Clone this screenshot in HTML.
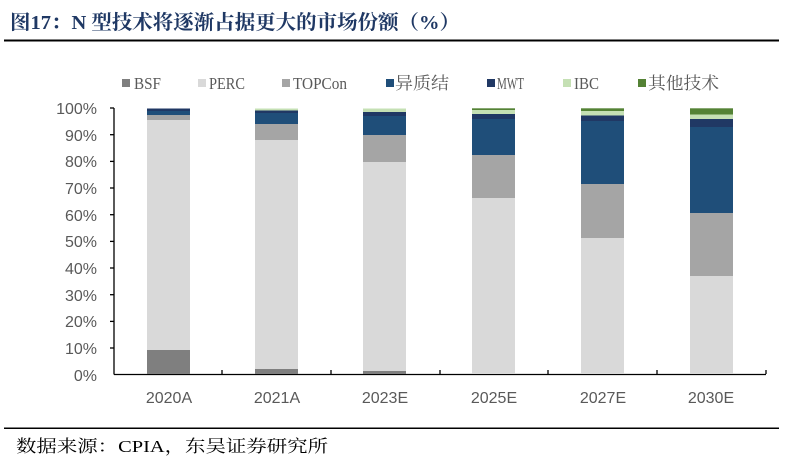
<!DOCTYPE html>
<html><head><meta charset="utf-8"><style>
body{margin:0;background:#fff;width:800px;height:465px;overflow:hidden}
svg{display:block}
.t{font-family:"Liberation Serif","Noto Serif CJK SC",serif}
.a{font-family:"Liberation Sans",sans-serif;fill:#595959}
</style></head><body>
<svg width="800" height="465" viewBox="0 0 800 465">
<text x="10" y="29" class="t" font-size="20" font-weight="bold" fill="#1f3864" textLength="450" lengthAdjust="spacingAndGlyphs">图17：N 型技术将逐渐占据更大的市场份额（%）</text>
<rect x="4" y="39.5" width="775" height="2" fill="#000"/>
<g class="t" font-size="17" fill="#595959">
<rect x="122" y="79" width="8" height="8" fill="#7f7f7f"/><text x="134" y="89" textLength="27" lengthAdjust="spacingAndGlyphs">BSF</text>
<rect x="198" y="79" width="8" height="8" fill="#d9d9d9"/><text x="209" y="89" textLength="36" lengthAdjust="spacingAndGlyphs">PERC</text>
<rect x="282" y="79" width="8" height="8" fill="#a5a5a5"/><text x="293" y="89" textLength="54" lengthAdjust="spacingAndGlyphs">TOPCon</text>
<rect x="386" y="79" width="8" height="8" fill="#1f4e79"/><text x="395" y="89" textLength="54" lengthAdjust="spacingAndGlyphs">异质结</text>
<rect x="487" y="79" width="8" height="8" fill="#203864"/><text x="497" y="89" textLength="27" lengthAdjust="spacingAndGlyphs">MWT</text>
<rect x="563" y="79" width="8" height="8" fill="#c5e0b4"/><text x="574" y="89" textLength="25" lengthAdjust="spacingAndGlyphs">IBC</text>
<rect x="638" y="79" width="8" height="8" fill="#548235"/><text x="648" y="89" textLength="71" lengthAdjust="spacingAndGlyphs">其他技术</text>
</g>
<g class="a" font-size="16" text-anchor="end">
<text x="97" y="114">100%</text><text x="97" y="141">90%</text><text x="97" y="167">80%</text><text x="97" y="194">70%</text><text x="97" y="221">60%</text><text x="97" y="247">50%</text><text x="97" y="274">40%</text><text x="97" y="301">30%</text><text x="97" y="327">20%</text><text x="97" y="354">10%</text><text x="97" y="381">0%</text>
</g>
<g stroke="#000" stroke-width="1.3">
<line x1="114" y1="108" x2="114" y2="374.5"/>
<line x1="114" y1="374.5" x2="766" y2="374.5"/>
<line x1="110" y1="108" x2="114" y2="108"/><line x1="110" y1="134.7" x2="114" y2="134.7"/><line x1="110" y1="161.4" x2="114" y2="161.4"/><line x1="110" y1="188" x2="114" y2="188"/><line x1="110" y1="214.7" x2="114" y2="214.7"/><line x1="110" y1="241.4" x2="114" y2="241.4"/><line x1="110" y1="268" x2="114" y2="268"/><line x1="110" y1="294.7" x2="114" y2="294.7"/><line x1="110" y1="321.4" x2="114" y2="321.4"/><line x1="110" y1="348" x2="114" y2="348"/>
<line x1="222" y1="370" x2="222" y2="374"/><line x1="331" y1="370" x2="331" y2="374"/><line x1="440" y1="370" x2="440" y2="374"/><line x1="548" y1="370" x2="548" y2="374"/><line x1="657" y1="370" x2="657" y2="374"/><line x1="766" y1="370" x2="766" y2="374"/>
</g>
<g transform="translate(147,0)">
<rect y="350" width="43" height="24" fill="#7f7f7f"/><rect y="120" width="43" height="230" fill="#d9d9d9"/><rect y="115" width="43" height="5" fill="#a5a5a5"/><rect y="111" width="43" height="4" fill="#1f4e79"/><rect y="108.5" width="43" height="2.5" fill="#203864"/>
</g>
<g transform="translate(255,0)">
<rect y="369" width="43" height="5" fill="#7f7f7f"/><rect y="140" width="43" height="229" fill="#d9d9d9"/><rect y="124" width="43" height="16" fill="#a5a5a5"/><rect y="113" width="43" height="11" fill="#1f4e79"/><rect y="110.5" width="43" height="2.5" fill="#203864"/><rect y="108.5" width="43" height="2" fill="#c5e0b4"/>
</g>
<g transform="translate(363,0)">
<rect y="371" width="43" height="3" fill="#7f7f7f"/><rect y="162" width="43" height="209" fill="#d9d9d9"/><rect y="135" width="43" height="27" fill="#a5a5a5"/><rect y="116" width="43" height="19" fill="#1f4e79"/><rect y="112" width="43" height="4" fill="#203864"/><rect y="108.5" width="43" height="3.5" fill="#c5e0b4"/>
</g>
<g transform="translate(472,0)">
<rect y="198" width="43" height="176" fill="#d9d9d9"/><rect y="155" width="43" height="43" fill="#a5a5a5"/><rect y="119" width="43" height="36" fill="#1f4e79"/><rect y="114" width="43" height="5" fill="#203864"/><rect y="110" width="43" height="4" fill="#c5e0b4"/><rect y="108.3" width="43" height="1.7" fill="#548235"/>
</g>
<g transform="translate(581,0)">
<rect y="238" width="43" height="136" fill="#d9d9d9"/><rect y="184" width="43" height="54" fill="#a5a5a5"/><rect y="121" width="43" height="63" fill="#1f4e79"/><rect y="115.5" width="43" height="5.5" fill="#203864"/><rect y="111" width="43" height="4.5" fill="#c5e0b4"/><rect y="108.3" width="43" height="2.7" fill="#548235"/>
</g>
<g transform="translate(690,0)">
<rect y="276" width="43" height="98" fill="#d9d9d9"/><rect y="213" width="43" height="63" fill="#a5a5a5"/><rect y="127" width="43" height="86" fill="#1f4e79"/><rect y="119" width="43" height="8" fill="#203864"/><rect y="114.5" width="43" height="4.5" fill="#c5e0b4"/><rect y="108.3" width="43" height="6.2" fill="#548235"/>
</g>
<g class="a" font-size="16" text-anchor="middle">
<text x="169" y="403">2020A</text><text x="277" y="403">2021A</text><text x="385" y="403">2023E</text><text x="494" y="403">2025E</text><text x="603" y="403">2027E</text><text x="711" y="403">2030E</text>
</g>
<rect x="4" y="427.5" width="775" height="1.5" fill="#000"/>
<text x="16" y="452" class="t" font-size="17" fill="#000" textLength="312" lengthAdjust="spacingAndGlyphs">数据来源：CPIA，东吴证券研究所</text>
</svg>
</body></html>
